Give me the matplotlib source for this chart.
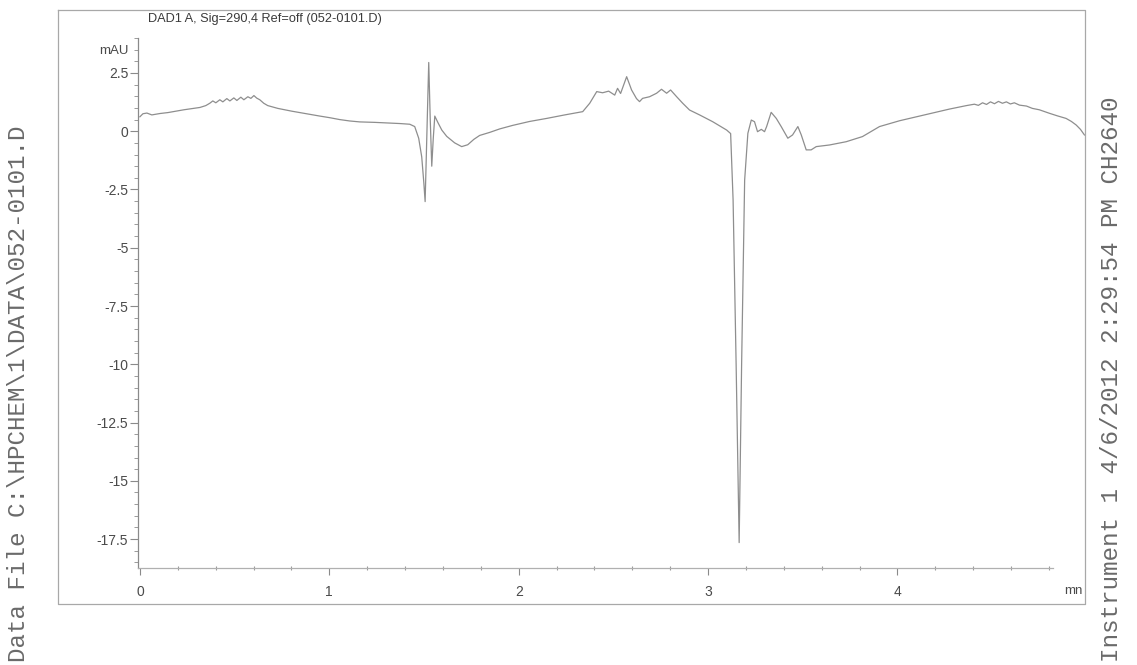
import matplotlib
matplotlib.use("Agg")
import matplotlib.pyplot as plt
from matplotlib.lines import Line2D
from matplotlib.ticker import MultipleLocator, FixedLocator

# Chromatogram trace: retention time (min) and detector response (mAU)
time_min = [
    0.000, 0.016, 0.037, 0.063, 0.106, 0.148, 0.190, 0.232, 0.274, 0.317,
    0.348, 0.369, 0.385, 0.401, 0.422, 0.438, 0.459, 0.475, 0.496, 0.512,
    0.533, 0.549, 0.570, 0.586, 0.602, 0.617, 0.633, 0.654, 0.675, 0.697,
    0.728, 0.765, 0.802, 0.844, 0.897, 0.950, 1.003, 1.055, 1.108, 1.161,
    1.240, 1.319, 1.372, 1.425, 1.451, 1.472, 1.488, 1.499, 1.506, 1.514,
    1.525, 1.533, 1.541, 1.549, 1.557, 1.573, 1.594, 1.620, 1.662, 1.699,
    1.731, 1.763, 1.794, 1.847, 1.900, 1.968, 2.058, 2.148, 2.243, 2.338,
    2.375, 2.412, 2.443, 2.475, 2.507, 2.522, 2.538, 2.570, 2.596, 2.622,
    2.638, 2.654, 2.691, 2.728, 2.754, 2.781, 2.802, 2.834, 2.866, 2.902,
    2.955, 3.024, 3.098, 3.119, 3.132, 3.148, 3.164, 3.177, 3.193, 3.210,
    3.228, 3.245, 3.261, 3.281, 3.298, 3.309, 3.333, 3.360, 3.386, 3.421,
    3.446, 3.474, 3.492, 3.518, 3.544, 3.571, 3.641, 3.729, 3.815, 3.905,
    4.011, 4.116, 4.274, 4.364, 4.406, 4.427, 4.449, 4.470, 4.491, 4.512,
    4.533, 4.554, 4.575, 4.596, 4.617, 4.644, 4.681, 4.712, 4.749, 4.802,
    4.844, 4.890, 4.918, 4.943, 4.966, 4.987,
]
signal_mau = [
    0.62, 0.75, 0.78, 0.70, 0.76, 0.80, 0.86, 0.92, 0.97, 1.02,
    1.10, 1.20, 1.30, 1.22, 1.35, 1.26, 1.40, 1.30, 1.43, 1.32,
    1.46, 1.35, 1.48, 1.41, 1.53, 1.42, 1.35, 1.20, 1.10, 1.05,
    0.98, 0.92, 0.86, 0.80, 0.72, 0.65, 0.58, 0.50, 0.44, 0.40,
    0.38, 0.35, 0.33, 0.30, 0.20, -0.30, -1.10, -2.20, -3.02, -0.50,
    2.95, 0.50, -1.50, -0.30, 0.65, 0.38, 0.05, -0.22, -0.50, -0.66,
    -0.58, -0.35, -0.18, -0.05, 0.10, 0.25, 0.42, 0.55, 0.70, 0.84,
    1.20, 1.70, 1.65, 1.72, 1.55, 1.84, 1.62, 2.34, 1.77, 1.40,
    1.27, 1.41, 1.48, 1.63, 1.80, 1.63, 1.77, 1.48, 1.20, 0.91,
    0.70, 0.41, 0.05, -0.10, -2.95, -10.00, -17.65, -10.00, -2.10, -0.09,
    0.48, 0.41, -0.02, 0.08, -0.02, 0.20, 0.81, 0.55, 0.20, -0.30,
    -0.16, 0.20, -0.16, -0.80, -0.80, -0.66, -0.59, -0.45, -0.23, 0.20,
    0.45, 0.65, 0.95, 1.10, 1.16, 1.11, 1.22, 1.15, 1.26, 1.18,
    1.28, 1.20, 1.26, 1.17, 1.22, 1.12, 1.08, 0.98, 0.92, 0.77,
    0.66, 0.55, 0.42, 0.27, 0.08, -0.16,
]

x_major = [0, 1, 2, 3, 4]
y_major = [2.5, 0, -2.5, -5, -7.5, -10, -12.5, -15, -17.5]
y_labels = ["2.5", "0", "-2.5", "-5", "-7.5", "-10", "-12.5", "-15", "-17.5"]

title_text = "DAD1 A, Sig=290,4 Ref=off (052-0101.D)"
left_note = "Data File C:\\HPCHEM\\1\\DATA\\052-0101.D"
right_note = "Instrument 1 4/6/2012 2:29:54 PM CH2640"

W, H = 1137, 665
fig = plt.figure(figsize=(W / 100, H / 100), dpi=100)
fig.patch.set_facecolor("white")


def fx(px):
    return px / W


def fy(py):
    return 1 - py / H


ink = "#4a4a4a"
trace_col = "#8e8e8e"
sans = ["Liberation Sans", "DejaVu Sans"]
mono = ["Liberation Mono", "DejaVu Sans Mono"]

# plotting area
ax_l, ax_r, ax_t, ax_b = 138, 1085, 38, 568
ax = fig.add_axes([fx(ax_l), fy(ax_b), fx(ax_r - ax_l), (ax_b - ax_t) / H])
ax.plot(time_min, signal_mau, color=trace_col, lw=0.9, solid_joinstyle="round")
ax.set_xlim(-0.01, 4.99)
ax.set_ylim(-18.74, 4.0)
ax.patch.set_alpha(0)

for side in ("top", "right"):
    ax.spines[side].set_visible(False)
ax.spines["left"].set_color("#8a8a8a")
ax.spines["left"].set_linewidth(0.9)
ax.spines["bottom"].set_color("#b0b0b0")
ax.spines["bottom"].set_linewidth(0.9)
ax.spines["bottom"].set_bounds(-0.01, 4.82)

ax.xaxis.set_major_locator(FixedLocator(x_major))
ax.xaxis.set_minor_locator(MultipleLocator(0.2))
ax.yaxis.set_major_locator(FixedLocator(y_major))
ax.set_yticklabels(y_labels)
ax.yaxis.set_minor_locator(MultipleLocator(0.5))

ax.tick_params(axis="x", which="major", direction="out", length=5, width=0.8,
               color="#8a8a8a", labelsize=10, labelcolor=ink, pad=7)
ax.tick_params(axis="x", which="minor", direction="inout", length=3, width=0.8,
               color="#9a9a9a")
ax.tick_params(axis="y", which="major", direction="out", length=6, width=0.8,
               color="#8a8a8a", labelsize=10, labelcolor=ink, pad=1)
ax.tick_params(axis="y", which="minor", direction="out", length=3, width=0.7,
               color="#9a9a9a")
for lab in ax.get_xticklabels() + ax.get_yticklabels():
    lab.set_family(sans)

# axis unit labels
fig.text(fx(129), fy(51), "mAU", ha="right", va="center", fontsize=9.5,
         color=ink, family=sans)
fig.text(fx(1083), fy(591), "mn", ha="right", va="center", fontsize=9.5,
         color=ink, family=sans)

# title above the trace
fig.text(fx(148), fy(19), title_text, ha="left", va="center", fontsize=9.2,
         color="#3a3a3a", family=sans)

# outer page frame
fl, fr, ft, fb = 58, 1085, 10, 604
frame_pts = [(fl, ft), (fr, ft), (fr, fb), (fl, fb), (fl, ft)]
fig.add_artist(Line2D([fx(p[0]) for p in frame_pts], [fy(p[1]) for p in frame_pts],
                      transform=fig.transFigure, color="#a8a8a8", lw=0.9))

# side annotations
fig.text(fx(19), fy(662), left_note, rotation=90, ha="center", va="bottom",
         fontsize=17.5, color="#6a6a6a", family=mono)
fig.text(fx(1112), fy(662), right_note, rotation=90, ha="center", va="bottom",
         fontsize=17.5, color="#6a6a6a", family=mono)

fig.savefig("out.png", dpi=100, facecolor="white")
